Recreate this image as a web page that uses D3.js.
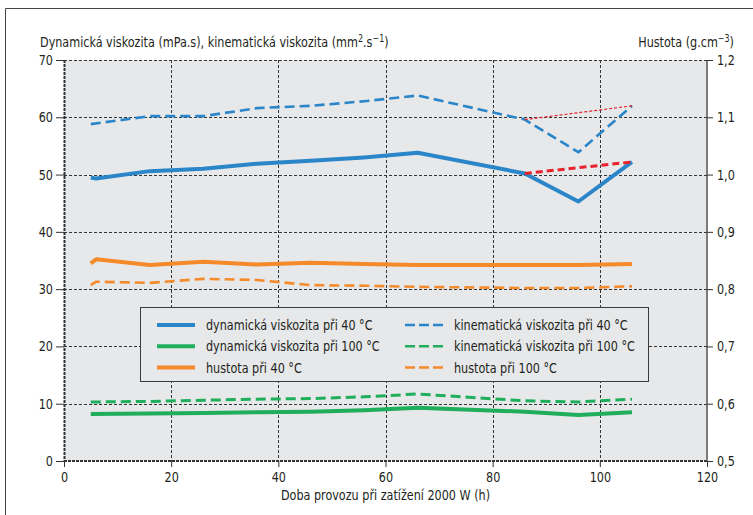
<!DOCTYPE html>
<meta charset="utf-8">
<script src="https://d3js.org/d3.v7.min.js"></script>
<style>
  body { margin: 0; background: #fff; }
  text { font-family: "Liberation Sans Narrow", "Arial Narrow", "DejaVu Sans Condensed", sans-serif; fill: #231f20; }
</style>
<div id="my_dataviz"></div>
<script>

  // ---- data ----
  // hours of operation (two first readings close together for some series)
  var hours = [5, 16, 26, 36, 46, 56, 66, 86, 96, 106];
  var hoursStart = [5, 6, 16, 26, 36, 46, 56, 66, 86, 96, 106];
  var trendHours = [86, 106];

  // viscosities (left axis)
  var dynVisc40 = [49.5, 49.3, 50.6, 51.0, 51.9, 52.4, 53.0, 53.8, 50.2, 45.3, 52.2];
  var kinVisc40 = [58.8, 60.2, 60.2, 61.6, 62.0, 62.8, 63.8, 59.6, 53.9, 62.0];
  var dynVisc100 = [8.2, 8.3, 8.4, 8.5, 8.6, 8.85, 9.3, 8.6, 8.05, 8.5];
  var kinVisc100 = [10.3, 10.4, 10.6, 10.8, 10.9, 11.2, 11.7, 10.5, 10.3, 10.8];

  // density (right axis)
  var density40 = [0.845, 0.852, 0.842, 0.848, 0.843, 0.846, 0.844, 0.842, 0.842, 0.842, 0.844];
  var density100 = [0.807, 0.813, 0.811, 0.818, 0.816, 0.807, 0.806, 0.804, 0.802, 0.802, 0.805];

  // red extrapolation from the last regular reading
  var dynTrend40 = [50.2, 52.2];
  var kinTrend40 = [59.6, 62.0];

  // ticks
  var xTicks = [0, 20, 40, 60, 80, 100, 120];
  var yTicks = [0, 10, 20, 30, 40, 50, 60, 70];
  var densityTicks = [0.5, 0.6, 0.7, 0.8, 0.9, 1.0, 1.1, 1.2];

  var legendLabels = ["dynamická viskozita při 40 °C", "dynamická viskozita při 100 °C", "hustota při 40 °C",
                      "kinematická viskozita při 40 °C", "kinematická viskozita při 100 °C", "hustota při 100 °C"];

  // ---- layout ----
  var margin = {top: 60, right: 46, bottom: 54, left: 64},
      width = 753 - margin.left - margin.right,
      height = 515 - margin.top - margin.bottom;

  var blue = "#2a86c9", green = "#1fae5b", orange = "#f58a2b", red = "#e8232b";

  // the original uses a condensed face; squeeze text horizontally around its anchor
  var narrowK = 0.89;
  var narrow = function(sel) {
    sel.each(function() {
      var t = d3.select(this);
      var tx = +t.attr("x") || 0, ty = +t.attr("y") || 0;
      t.attr("transform", "translate(" + tx + "," + ty + ") scale(" + narrowK + ",1) translate(" + (-tx) + "," + (-ty) + ")");
    });
  };

  var root = d3.select("#my_dataviz")
    .append("svg")
      .attr("width", 753)
      .attr("height", 515);

  // outer frame (top and left)
  root.append("path")
    .attr("d", "M5.5,515V8.5H753")
    .attr("fill", "none")
    .attr("stroke", "#444")
    .attr("stroke-width", 1);

  var svg = root.append("g")
    .attr("transform", "translate(" + margin.left + "," + margin.top + ")");

  var x = d3.scaleLinear().domain([0, 120]).range([0, width]);
  var y = d3.scaleLinear().domain([0, 70]).range([height, 0]);
  var yRight = d3.scaleLinear().domain([0.5, 1.2]).range([height, 0]);

  // plot background
  svg.append("rect")
    .attr("width", width)
    .attr("height", height)
    .attr("fill", "#e7e8ea");

  // grid
  svg.append("g").selectAll("line")
    .data(xTicks.slice(1, -1))
    .enter().append("line")
      .attr("x1", function(d) { return Math.round(x(d)) + 0.5; })
      .attr("x2", function(d) { return Math.round(x(d)) + 0.5; })
      .attr("y1", 0).attr("y2", height)
      .attr("stroke", "#333").attr("stroke-dasharray", "3,2");
  svg.append("g").selectAll("line")
    .data(yTicks.slice(1))
    .enter().append("line")
      .attr("y1", function(d) { return Math.round(y(d)) + 0.5; })
      .attr("y2", function(d) { return Math.round(y(d)) + 0.5; })
      .attr("x1", 0).attr("x2", width)
      .attr("stroke", "#333").attr("stroke-dasharray", "3,2");

  // borders of the plot
  svg.append("line").attr("x1", 0.5).attr("x2", 0.5).attr("y1", 0).attr("y2", height)
    .attr("stroke", "#333").attr("stroke-width", 2).attr("stroke-dasharray", "3,1");
  svg.append("line").attr("x1", 0).attr("x2", width).attr("y1", height).attr("y2", height)
    .attr("stroke", "#333").attr("stroke-width", 2).attr("stroke-dasharray", "3,1");
  svg.append("line").attr("x1", width).attr("x2", width).attr("y1", 0).attr("y2", height)
    .attr("stroke", "#555").attr("stroke-width", 1.5);

  // axes
  var fmtComma = function(d) { return d3.format(".1f")(d).replace(".", ","); };

  var axisStyle = function(g) {
    g.select(".domain").remove();
    g.selectAll(".tick line").attr("stroke", "#333");
    g.selectAll(".tick text").style("font-size", "14px").attr("fill", "#231f20").call(narrow);
  };

  svg.append("g")
    .attr("transform", "translate(0," + height + ")")
    .call(d3.axisBottom(x).tickValues(xTicks).tickSize(6).tickPadding(5))
    .call(axisStyle);

  svg.append("g")
    .call(d3.axisLeft(y).tickValues(yTicks).tickSize(8).tickPadding(3))
    .call(axisStyle);

  svg.append("g")
    .attr("transform", "translate(" + width + ",0)")
    .call(d3.axisRight(yRight).tickValues(densityTicks).tickFormat(fmtComma).tickSize(6).tickPadding(4))
    .call(axisStyle);

  // axis titles
  var leftTitle = root.append("text")
    .attr("x", 40).attr("y", 47)
    .style("font-size", "14px");
  leftTitle.append("tspan").text("Dynamická viskozita (mPa.s), kinematická viskozita (mm");
  leftTitle.append("tspan").attr("dy", -5).style("font-size", "10px").text("2");
  leftTitle.append("tspan").attr("dy", 5).text(".s");
  leftTitle.append("tspan").attr("dy", -5).style("font-size", "10px").text("−1");
  leftTitle.append("tspan").attr("dy", 5).text(")");
  leftTitle.call(narrow);

  var rightTitle = root.append("text")
    .attr("x", 734).attr("y", 47)
    .attr("text-anchor", "end")
    .style("font-size", "14px");
  rightTitle.append("tspan").text("Hustota (g.cm");
  rightTitle.append("tspan").attr("dy", -5).style("font-size", "10px").text("−3");
  rightTitle.append("tspan").attr("dy", 5).text(")");
  rightTitle.call(narrow);

  root.append("text")
    .attr("x", margin.left + x(60)).attr("y", 500)
    .attr("text-anchor", "middle")
    .style("font-size", "14px")
    .text("Doba provozu při zatížení 2000 W (h)")
    .call(narrow);

  // ---- lines ----
  var lineLeft = d3.line()
    .x(function(d) { return x(d[0]); })
    .y(function(d) { return y(d[1]); });
  var lineRight = d3.line()
    .x(function(d) { return x(d[0]); })
    .y(function(d) { return yRight(d[1]); });

  var series = [
    {xs: hours, ys: kinVisc100, line: lineLeft, color: green, w: 3, dash: "10,5"},
    {xs: hours, ys: dynVisc100, line: lineLeft, color: green, w: 4, dash: null},
    {xs: hoursStart, ys: density100, line: lineRight, color: orange, w: 2.6, dash: "10,5"},
    {xs: hoursStart, ys: density40, line: lineRight, color: orange, w: 4, dash: null},
    {xs: hours, ys: kinVisc40, line: lineLeft, color: blue, w: 2.6, dash: "10,5"},
    {xs: hoursStart, ys: dynVisc40, line: lineLeft, color: blue, w: 4, dash: null},
    {xs: trendHours, ys: kinTrend40, line: lineLeft, color: red, w: 1.2, dash: "3,2"},
    {xs: trendHours, ys: dynTrend40, line: lineLeft, color: red, w: 3, dash: "7,4"}
  ];

  svg.append("g").selectAll("path")
    .data(series)
    .enter().append("path")
      .attr("d", function(s) { return s.line(d3.zip(s.xs, s.ys)); })
      .attr("fill", "none")
      .attr("stroke", function(s) { return s.color; })
      .attr("stroke-width", function(s) { return s.w; })
      .attr("stroke-dasharray", function(s) { return s.dash; })
      .attr("stroke-linejoin", "round");

  // ---- legend ----
  var legend = root.append("g")
    .attr("transform", "translate(140,307)");
  legend.append("rect")
    .attr("x", 0.5).attr("y", 0.5)
    .attr("width", 508).attr("height", 74)
    .attr("fill", "#e7e8ea")
    .attr("stroke", "#3a3a3a");

  var legendStyle = [
    {color: blue, dash: null}, {color: green, dash: null}, {color: orange, dash: null},
    {color: blue, dash: "10,4"}, {color: green, dash: "10,4"}, {color: orange, dash: "10,4"}
  ];

  var item = legend.selectAll("g.item")
    .data(legendLabels)
    .enter().append("g")
      .attr("class", "item")
      .attr("transform", function(d, i) {
        return "translate(" + (i < 3 ? 17 : 265) + "," + (18 + (i % 3) * 21.3) + ")";
      });
  item.append("line")
    .attr("x1", 0).attr("x2", 38)
    .attr("stroke", function(d, i) { return legendStyle[i].color; })
    .attr("stroke-width", function(d, i) { return legendStyle[i].dash ? 2.5 : 4; })
    .attr("stroke-dasharray", function(d, i) { return legendStyle[i].dash; });
  item.append("text")
    .attr("x", 49).attr("y", 5)
    .style("font-size", "14px")
    .text(function(d) { return d; })
    .call(narrow);

</script>
